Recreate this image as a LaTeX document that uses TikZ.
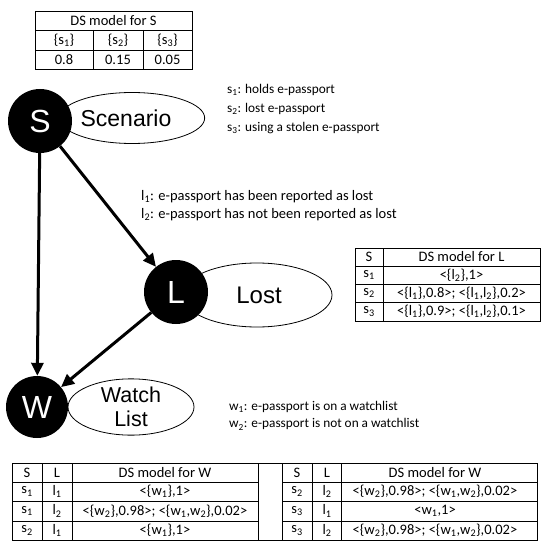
\documentclass[tikz,border=0pt]{standalone}
\usepackage{fontspec}
\setmainfont{Carlito}
\newfontfamily\arialfont{Liberation Sans}
\usetikzlibrary{%
  arrows.meta,%
  shapes.geometric,% wg. ellipse
  positioning%
}

\tikzset{
  var/.style={circle,fill=black,minimum size=64pt,inner sep=0pt,text=white,
    font=\arialfont\fontsize{32}{32}\selectfont},
  varname/.style={ellipse,draw,line width=0.8pt,inner sep=0pt,align=center,
    font=\arialfont\fontsize{24}{26}\selectfont},
  link/.style={line width=3pt,-{Triangle[length=13pt,width=12pt]}},
  grid/.style={line width=0.8pt},
  cell/.style={inner sep=0pt,font=\fontsize{14.5}{17}\selectfont},
  note/.style={inner sep=0pt,align=left,anchor=north west,
    font=\fontsize{13.3}{19}\selectfont},
}

\begin{document}
\begin{tikzpicture}[x=1pt,y=-1pt]
\useasboundingbox (0,0) rectangle (552,556);

% DS model for S
\draw[grid] (35,11) rectangle (192,69);
\draw[grid] (35,30) -- (192,30) (35,50) -- (192,50);
\draw[grid] (93,30) -- (93,69) (143,30) -- (143,69);
\node[cell] (tS-head) at (113.5,20.5) {DS model for S};
\foreach \i/\x/\m in {1/64/0.8, 2/118/0.15, 3/167.5/0.05} {
  \node[cell] (tS-set-\i) at (\x,40) {\{s\textsubscript{\i}\}};
  \node[cell] (tS-mass-\i) at (\x,59.5) {\m};
}

% variables and their names
\node[varname,minimum width=126pt,minimum height=51pt,
  font=\arialfont\fontsize{23}{26}\selectfont] (S-name) at (132,118) {Scenario\hspace{12pt}};
\node[varname,minimum width=150pt,minimum height=64pt] (L-name) at (257,295) {\hspace{4pt}Lost};
\node[varname,minimum width=126pt,minimum height=54pt,
  font=\arialfont\fontsize{21.5}{24}\selectfont] (W-name) at (131,407) {Watch\\List\hspace{2pt}};

\node[var] (S) at (40,121) {S};
\node[var] (L) at (176,292) {L};
\node[var,minimum size=62pt] (W) at (37,407) {W};

\draw[link] (S) -- (W);
\draw[link] (S) -- (L);
\draw[link] (L) -- (W);

% frames of discernment
\node[note] (s-note) at (227,84) {s\textsubscript{1}: holds e-passport\\
  s\textsubscript{2}: lost e-passport\\
  s\textsubscript{3}: using a stolen e-passport};
\node[note,font=\fontsize{14.5}{18}\selectfont] (l-note) at (141,190) {l\textsubscript{1}: e-passport has been reported as lost\\
  l\textsubscript{2}: e-passport has not been reported as lost};
\node[note,font=\fontsize{13.3}{17.5}\selectfont] (w-note) at (229,401) {w\textsubscript{1}: e-passport is on a watchlist\\
  w\textsubscript{2}: e-passport is not on a watchlist};

% DS model for L
\draw[grid] (355,248) rectangle (540,321);
\foreach \y in {266,284,302} {
  \draw[grid] (355,\y) -- (540,\y);
}
\draw[grid] (383,248) -- (383,321);
\node[cell] (tL-s) at (369,257) {S};
\node[cell] (tL-head) at (461.5,257) {DS model for L};
\foreach \i/\y/\m in {%
  1/275/{<\{l\textsubscript{2}\},1>},
  2/293/{<\{l\textsubscript{1}\},0.8>; <\{l\textsubscript{1},l\textsubscript{2}\},0.2>},
  3/311.5/{<\{l\textsubscript{1}\},0.9>; <\{l\textsubscript{1},l\textsubscript{2}\},0.1>}} {
  \node[cell] (tL-s-\i) at (369,\y) {s\textsubscript{\i}};
  \node[cell] (tL-m-\i) at (461.5,\y) {\m};
}

% DS model for W
\draw[grid] (12,463) rectangle (537,540);
\foreach \y in {482,501,521} {
  \draw[grid] (12,\y) -- (258,\y);
  \draw[grid] (282,\y) -- (537,\y);
}
\foreach \x in {42,72,258,282,312,341} {
  \draw[grid] (\x,463) -- (\x,540);
}
\foreach \p/\x in {l/0, r/270} {
  \node[cell] (tW-\p-s) at (27+\x,472.5) {S};
  \node[cell] (tW-\p-l) at (57+\x,472.5) {L};
  \node[cell] (tW-\p-head) at (165+\x,472.5) {DS model for W};
}
\foreach \n/\x/\y/\s/\l/\m in {%
  1/0/491.5/1/1/{<\{w\textsubscript{1}\},1>},
  2/0/511/1/2/{<\{w\textsubscript{2}\},0.98>; <\{w\textsubscript{1},w\textsubscript{2}\},0.02>},
  3/0/530.5/2/1/{<\{w\textsubscript{1}\},1>},
  4/270/491.5/2/2/{<\{w\textsubscript{2}\},0.98>; <\{w\textsubscript{1},w\textsubscript{2}\},0.02>},
  5/270/511/3/1/{<w\textsubscript{1},1>},
  6/270/530.5/3/2/{<\{w\textsubscript{2}\},0.98>; <\{w\textsubscript{1},w\textsubscript{2}\},0.02>}} {
  \node[cell] (tW-s-\n) at (27+\x,\y) {s\textsubscript{\s}};
  \node[cell] (tW-l-\n) at (57+\x,\y) {l\textsubscript{\l}};
  \node[cell] (tW-m-\n) at (165+\x,\y) {\m};
}

\end{tikzpicture}
\end{document}
